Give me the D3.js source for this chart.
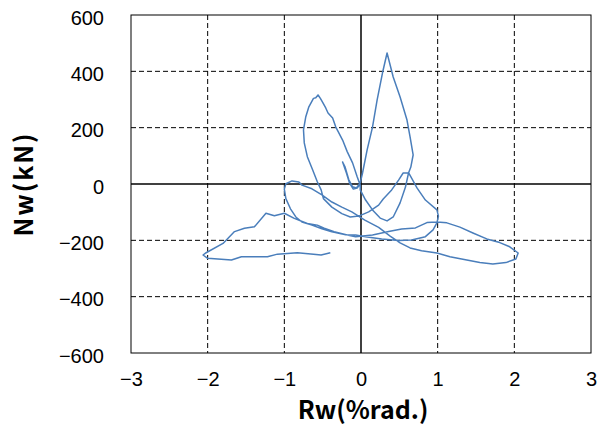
<!DOCTYPE html>
<html>
<head>
<meta charset="utf-8">
<script src="https://cdn.jsdelivr.net/npm/d3@7"></script>
<style>
  html, body { margin: 0; padding: 0; background: #fff; }
  svg { display: block; }
</style>
</head>
<body>
<svg id="chart"></svg>
<script>
// Rw (%rad.) and Nw (kN) in loading order
const rw = [
  -0.01, -0.05, -0.10, -0.15, -0.19, -0.24, -0.21, -0.16, -0.11, -0.06, -0.01,
  0.02, 0.08, 0.15, 0.21, 0.28, 0.34,
  0.42, 0.51, 0.60, 0.64, 0.68, 0.65, 0.62, 0.58, 0.51, 0.42, 0.34, 0.25, 0.15, 0.06, -0.01,
  -0.01, -0.05, -0.11, -0.18, -0.24, -0.33, -0.37, -0.43, -0.46, -0.50, -0.53, -0.56, -0.59, -0.62,
  -0.68, -0.72, -0.75, -0.74, -0.70, -0.63, -0.57, -0.52, -0.49, -0.38, -0.25, -0.14, -0.03,
  0.10, 0.23, 0.29, 0.40, 0.49, 0.55, 0.62,
  0.66, 0.73, 0.84, 0.99, 1.01, 0.99, 0.94, 0.84, 0.66, 0.49, 0.27, 0.06, -0.07, -0.20, -0.38,
  -0.51, -0.64, -0.77, -0.85, -0.92, -0.98, -1.00, -0.98, -0.90, -0.81, -0.77, -0.64, -0.51,
  -0.38, -0.25, -0.12, 0.05, 0.23, 0.38, 0.51, 0.64,
  0.79, 0.99, 1.16, 1.38, 1.55, 1.72, 1.89, 2.02, 2.05, 1.94, 1.81, 1.64, 1.46, 1.29, 1.12,
  0.99, 0.86, 0.71, 0.53, 0.36, 0.15, -0.07,
  -0.18, -0.35, -0.48, -0.57, -0.70, -0.87, -1.00, -1.13, -1.24, -1.39, -1.52, -1.65, -1.80,
  -2.02, -2.06, -2.00, -1.69, -1.56, -1.22, -1.09, -0.83, -0.62, -0.52, -0.40
];
const nw = [
  0, -14, -18, 3, 39, 78, 62, 16, -10, -14, 4,
  39, 121, 202, 298, 394, 465,
  380, 309, 227, 167, 103, 60, 39, -11, -67, -117, -131, -121, -92, -57, -21,
  -4, 26, 75, 115, 156, 203, 234, 252, 270, 290, 304, 316, 306, 304,
  274, 239, 192, 146, 97, 50, 8, -21, -52, -82, -105, -117, -114,
  -99, -75, -53, -21, 14, 39, 40,
  21, -14, -57, -92, -114, -138, -163, -187, -199, -201, -195, -187, -181, -180, -170,
  -159, -146, -135, -117, -88, -52, -18, 1, 11, 7, -4, -17, -39,
  -64, -82, -99, -128, -154, -185, -209, -227,
  -237, -245, -258, -270, -279, -284, -279, -266, -245, -223, -208, -195, -174, -153, -138,
  -135, -137, -156, -160, -169, -181, -187,
  -181, -169, -157, -146, -140, -122, -104, -113, -104, -152, -157, -169, -211,
  -244, -252, -264, -270, -258, -258, -249, -244, -249, -252, -244
];

const xTicks = [-3, -2, -1, 0, 1, 2, 3];
const yTicks = [-600, -400, -200, 0, 200, 400, 600];
const xTitle = "Rw(%rad.)";
const yTitle = "Nw(kN)";

const width = 597;
const height = 425;
const margin = { top: 15, right: 6, bottom: 72, left: 131 };

const svg = d3.select("#chart").attr("width", width).attr("height", height);

const x = d3.scaleLinear().domain([-3, 3]).range([margin.left, width - margin.right]);
const y = d3.scaleLinear().domain([-600, 600]).range([height - margin.bottom, margin.top]);

const minus = (d) => d < 0 ? "\u2212" + Math.abs(d) : String(d);

// dashed grid
svg.append("g")
  .selectAll("line")
  .data(xTicks.filter(d => d !== 0 && Math.abs(d) !== 3))
  .join("line")
  .attr("x1", d => x(d)).attr("x2", d => x(d))
  .attr("y1", y(600)).attr("y2", y(-600))
  .attr("stroke", "#000").attr("stroke-width", 1).attr("stroke-dasharray", "5,3");

svg.append("g")
  .selectAll("line")
  .data(yTicks.filter(d => d !== 0 && Math.abs(d) !== 600))
  .join("line")
  .attr("x1", x(-3)).attr("x2", x(3))
  .attr("y1", d => y(d)).attr("y2", d => y(d))
  .attr("stroke", "#000").attr("stroke-width", 1).attr("stroke-dasharray", "5,3");

// zero lines
svg.append("line")
  .attr("x1", x(0)).attr("x2", x(0)).attr("y1", y(600)).attr("y2", y(-600))
  .attr("stroke", "#000").attr("stroke-width", 1.5);
svg.append("line")
  .attr("x1", x(-3)).attr("x2", x(3)).attr("y1", y(0)).attr("y2", y(0))
  .attr("stroke", "#000").attr("stroke-width", 1.5);

// plot frame
svg.append("rect")
  .attr("x", x(-3)).attr("y", y(600))
  .attr("width", x(3) - x(-3)).attr("height", y(-600) - y(600))
  .attr("fill", "none").attr("stroke", "#000").attr("stroke-width", 1);

// hysteresis curve
const pts = rw.map((d, i) => [d, nw[i]]);
const line = d3.line().x(d => x(d[0])).y(d => y(d[1]));
svg.append("path")
  .datum(pts)
  .attr("d", line)
  .attr("fill", "none")
  .attr("stroke", "#4a7ebb")
  .attr("stroke-width", 1.5)
  .attr("stroke-linejoin", "round");

// axes (labels only)
svg.append("g")
  .attr("transform", `translate(0,${y(-600)})`)
  .call(d3.axisBottom(x).tickValues(xTicks).tickFormat(minus).tickSize(0).tickPadding(19))
  .call(g => g.select(".domain").remove())
  .call(g => g.selectAll("text")
    .attr("fill", "#000")
    .style("font-family", "'Liberation Sans', Arial, sans-serif")
    .style("font-size", "20px"));

svg.append("g")
  .attr("transform", `translate(${x(-3)},0)`)
  .call(d3.axisLeft(y).tickValues(yTicks).tickFormat(minus).tickSize(0).tickPadding(27))
  .call(g => g.select(".domain").remove())
  .call(g => g.selectAll("text")
    .attr("fill", "#000")
    .attr("dy", "0.45em")
    .style("font-family", "'Liberation Sans', Arial, sans-serif")
    .style("font-size", "20px"));

// axis titles
svg.append("text")
  .attr("x", x(0) + 2)
  .attr("y", 419)
  .attr("text-anchor", "middle")
  .style("font-family", "'Noto Sans CJK JP', sans-serif")
  .style("font-weight", "bold")
  .style("font-size", "25px")
  .text(xTitle);

svg.append("text")
  .attr("transform", "rotate(-90)")
  .attr("x", -y(0))
  .attr("y", 33)
  .attr("text-anchor", "middle")
  .style("font-family", "'Noto Sans CJK JP', sans-serif")
  .style("font-weight", "bold")
  .style("font-size", "25px")
  .style("letter-spacing", "2px")
  .text(yTitle);
</script>
</body>
</html>
